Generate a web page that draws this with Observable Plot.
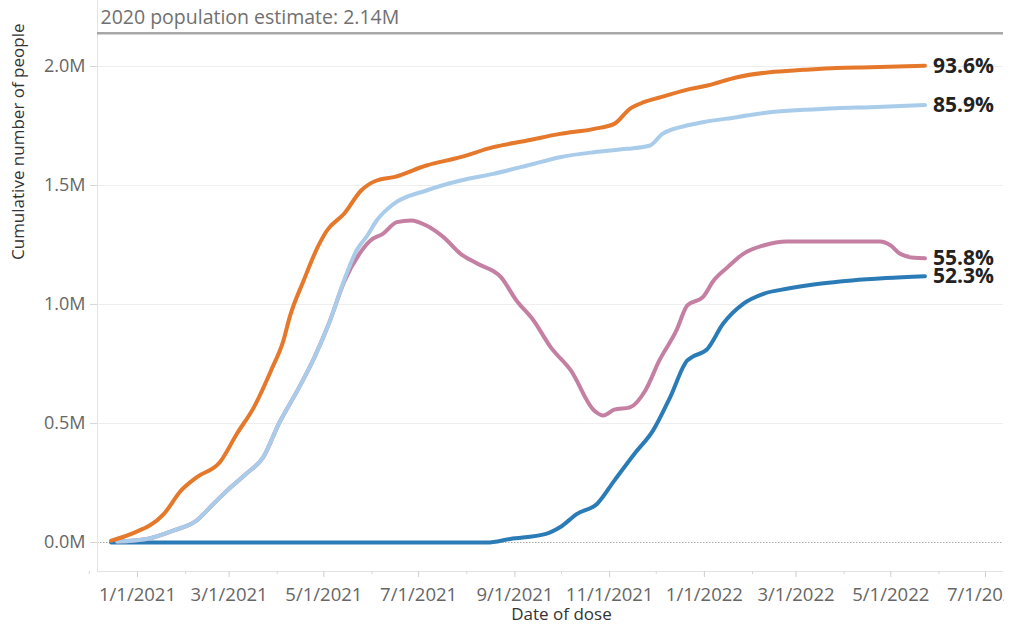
<!DOCTYPE html>
<html><head><meta charset="utf-8">
<script src="https://cdn.jsdelivr.net/npm/d3@7"></script>
<script src="https://cdn.jsdelivr.net/npm/@observablehq/plot@0.6"></script>
<style>
body{margin:0;background:#fff;}
#wrap{width:1004px;height:627px;overflow:hidden;}
#wrap svg{max-width:none !important;width:1016px !important;height:627px !important;}
</style></head><body><div id="wrap"></div>
<script>
// ---- data (values in millions of people) ----
const populationEstimate = 2.14;
const populationLabel = "2020 population estimate: 2.14M";

const oneDoseDates = ["2020-12-15","2020-12-28","2021-01-18","2021-01-29","2021-02-08","2021-02-23","2021-03-06","2021-03-17","2021-03-28","2021-04-05","2021-04-09","2021-04-18","2021-04-27","2021-05-03","2021-05-14","2021-05-25","2021-06-04","2021-06-15","2021-07-06","2021-07-28","2021-08-18","2021-09-09","2021-09-30","2021-10-22","2021-11-04","2021-11-14","2021-11-23","2021-12-04","2021-12-23","2022-01-03","2022-01-22","2022-02-12","2022-03-06","2022-03-27","2022-04-18","2022-05-23"];
const oneDoseValues = [0.008,0.036,0.12,0.218,0.274,0.337,0.457,0.569,0.723,0.849,0.947,1.101,1.241,1.311,1.381,1.479,1.521,1.535,1.584,1.619,1.661,1.689,1.717,1.738,1.759,1.822,1.850,1.871,1.906,1.920,1.955,1.976,1.986,1.994,1.997,2.003];

const fullyDates = ["2020-12-19","2021-01-07","2021-01-24","2021-02-08","2021-02-19","2021-03-02","2021-03-12","2021-03-23","2021-04-02","2021-04-14","2021-04-25","2021-05-05","2021-05-14","2021-05-22","2021-05-29","2021-06-04","2021-06-15","2021-07-06","2021-07-28","2021-08-18","2021-09-09","2021-09-30","2021-10-22","2021-11-12","2021-11-27","2021-12-05","2021-12-23","2021-12-31","2022-01-22","2022-02-12","2022-03-06","2022-03-27","2022-04-18","2022-05-23"];
const fullyValues = [0.004,0.015,0.05,0.092,0.163,0.232,0.289,0.359,0.499,0.639,0.779,0.933,1.101,1.227,1.29,1.353,1.423,1.479,1.521,1.549,1.584,1.619,1.640,1.654,1.668,1.717,1.755,1.766,1.787,1.808,1.818,1.825,1.829,1.838];

const upToDateDates = ["2020-12-19","2021-01-07","2021-01-24","2021-02-08","2021-02-19","2021-03-02","2021-03-12","2021-03-23","2021-04-02","2021-04-14","2021-04-25","2021-05-05","2021-05-14","2021-05-24","2021-05-31","2021-06-08","2021-06-17","2021-06-26","2021-07-06","2021-07-17","2021-07-28","2021-08-08","2021-08-23","2021-09-02","2021-09-13","2021-09-24","2021-10-07","2021-10-22","2021-10-28","2021-11-04","2021-11-14","2021-11-24","2021-12-03","2021-12-14","2021-12-21","2021-12-31","2022-01-07","2022-01-16","2022-01-26","2022-02-08","2022-02-23","2022-04-24","2022-05-01","2022-05-07","2022-05-16","2022-05-23"];
const upToDateValues = [0.004,0.015,0.05,0.092,0.163,0.232,0.289,0.359,0.499,0.639,0.779,0.933,1.095,1.214,1.269,1.297,1.346,1.353,1.332,1.283,1.213,1.171,1.115,1.017,0.933,0.821,0.723,0.555,0.534,0.558,0.568,0.639,0.765,0.891,0.996,1.031,1.101,1.157,1.213,1.248,1.265,1.265,1.248,1.213,1.196,1.194];

const boosterDates = ["2020-12-15","2021-08-14","2021-08-29","2021-09-21","2021-09-30","2021-10-11","2021-10-24","2021-11-04","2021-11-17","2021-11-29","2021-12-10","2021-12-21","2021-12-24","2022-01-03","2022-01-13","2022-01-26","2022-02-08","2022-02-23","2022-03-16","2022-04-06","2022-04-28","2022-05-23"];
const boosterValues = [0,0,0.015,0.036,0.064,0.12,0.163,0.26,0.373,0.471,0.611,0.765,0.779,0.814,0.919,1.003,1.045,1.066,1.087,1.101,1.111,1.119];

const seriesNames = ["booster","upToDate","fully","oneDose"];
const seriesColors = ["#2b7bb6","#c47fa2","#a8cce9","#e5782a"];
const seriesLabels = ["52.3%","55.8%","85.9%","93.6%"];

const majorTicks = ["2021-01-01","2021-03-01","2021-05-01","2021-07-01","2021-09-01","2021-11-01","2022-01-01","2022-03-01","2022-05-01","2022-07-01"];
const minorTicks = ["2020-12-01","2021-02-01","2021-04-01","2021-06-01","2021-08-01","2021-10-01","2021-12-01","2022-02-01","2022-04-01","2022-06-01"];
const yTicks = [0, 0.5, 1.0, 1.5, 2.0];
const xDomain = ["2020-12-06T06:00Z","2022-07-12T14:00Z"];
const yDomain = [-0.1218, 2.2773];

// ---- build ----
const parse = s => new Date(s.length === 10 ? s + "T00:00Z" : s);
function build(name, dates, values) { return dates.map((d, i) => ({series: name, date: parse(d), value: values[i]})); }
const seriesData = {
  booster: build("booster", boosterDates, boosterValues),
  upToDate: build("upToDate", upToDateDates, upToDateValues),
  fully: build("fully", fullyDates, fullyValues),
  oneDose: build("oneDose", oneDoseDates, oneDoseValues)
};
const lastPoints = seriesNames.map((n, i) => ({...seriesData[n][seriesData[n].length - 1], label: seriesLabels[i], color: seriesColors[i]}));
const font = "'Open Sans', 'Noto Sans', sans-serif";

const chart = Plot.plot({
  width: 1016, height: 627,
  marginLeft: 97, marginRight: 13, marginTop: 0, marginBottom: 56,
  style: {fontFamily: font, fontSize: "17px", background: "#fff"},
  x: {type: "utc", domain: xDomain.map(parse)},
  y: {domain: yDomain},
  marks: [
    Plot.gridY(yTicks.filter(d => d > 0), {stroke: "#eeeeee", strokeOpacity: 1}),
    Plot.ruleY([0], {stroke: "#aaa", strokeDasharray: "1.5,1.5"}),
    Plot.ruleX([parse(xDomain[0])], {stroke: "#e3e3e3"}),
    Plot.ruleY([yDomain[0]], {stroke: "#e3e3e3"}),
    Plot.ruleY([populationEstimate], {stroke: "#a8a8a8", strokeWidth: 2.5}),
    Plot.text([{value: populationEstimate, label: populationLabel}], {y: "value", text: "label", frameAnchor: "left", textAnchor: "start", dx: 3, dy: -15, fill: "#707070", fontSize: 19.5}),
    Plot.axisY({ticks: yTicks, tickFormat: d => d.toFixed(1) + "M", tickSize: 7, tickPadding: 5, stroke: "#d8d8d8", fill: "#666", fontSize: 18, label: null}),
    Plot.axisX({ticks: majorTicks.map(parse), tickFormat: d3.utcFormat("%-m/%-d/%Y"), tickSize: 6, tickPadding: 10, stroke: "#cfcfcf", fill: "#666", fontSize: 18.5, label: null}),
    Plot.axisX({ticks: minorTicks.map(parse), tickFormat: () => "", tickSize: 3, stroke: "#d8d8d8", label: null}),
    Plot.text(["Cumulative number of people"], {frameAnchor: "left", rotate: -90, dx: -79, dy: -26, fill: "#333", fontSize: 17}),
    Plot.text(["Date of dose"], {frameAnchor: "bottom", dx: 11, dy: 48, fill: "#333", fontSize: 17}),
    ...seriesNames.map((n, i) => Plot.line(seriesData[n], {x: "date", y: "value", stroke: seriesColors[i], strokeWidth: 4, curve: "monotone-x"})),
    Plot.text(lastPoints, {x: "date", y: "value", text: "label", dx: 8, textAnchor: "start", fontWeight: "bold", fontSize: 21, fill: "#222"})
  ]
});
document.getElementById("wrap").appendChild(chart);
</script>
</body></html>
